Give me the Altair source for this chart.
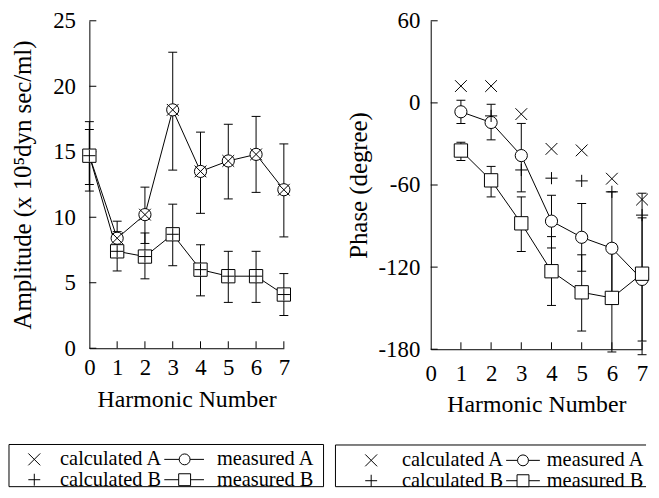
import altair as alt
import pandas as pd

# ---------------- data ----------------
harmonics = [0, 1, 2, 3, 4, 5, 6, 7]
amp_meas_A = [14.7, 8.4, 10.2, 18.2, 13.5, 14.3, 14.8, 12.1]
amp_meas_A_hi = [17.3, 9.7, 12.3, 22.6, 16.5, 17.1, 17.7, 15.6]
amp_meas_A_lo = [12.0, 7.1, 8.0, 13.6, 10.3, 11.4, 11.9, 8.5]
amp_meas_B = [14.7, 7.4, 7.0, 8.7, 6.0, 5.5, 5.5, 4.1]
amp_meas_B_hi = [16.7, 8.9, 8.8, 11.0, 7.9, 7.4, 7.4, 5.7]
amp_meas_B_lo = [12.5, 5.9, 5.3, 6.3, 4.0, 3.5, 3.5, 2.5]
amp_calc_A_h = [1, 2, 3, 4, 5, 6, 7]
amp_calc_A = [8.4, 10.2, 18.2, 13.5, 14.3, 14.8, 12.1]
amp_calc_B_h = [0, 1, 2, 3, 4, 5, 6, 7]
amp_calc_B = [14.7, 7.4, 7.0, 8.7, 6.0, 5.5, 5.5, 4.1]

phase_h = [1, 2, 3, 4, 5, 6, 7]
phase_meas_A = [-6.5, -14.3, -38.5, -86.4, -98.2, -106.2, -129.0]
phase_meas_A_hi = [2.0, -1.0, -15.0, -67.5, -73.5, -65.0, -84.0]
phase_meas_A_lo = [-15.0, -27.0, -65.0, -106.0, -123.0, -147.0, -174.0]
phase_meas_B = [-34.8, -56.6, -88.0, -123.0, -138.4, -142.5, -124.8]
phase_meas_B_hi = [-28.8, -46.4, -68.7, -97.7, -111.0, -103.0, -66.0]
phase_meas_B_lo = [-42.1, -68.7, -108.6, -148.0, -166.7, -182.0, -184.0]
phase_calc_A_h = [1, 2, 3, 4, 5, 6, 7]
phase_calc_A = [12.3, 12.3, -8.2, -33.6, -34.7, -55.4, -70.6]
phase_calc_B_h = [2, 3, 4, 5, 6, 7]
phase_calc_B = [-9.5, -49.0, -55.0, -57.0, -65.0, -82.0]

amp_ticks = [0, 5, 10, 15, 20, 25]
phase_ticks = [60, 0, -60, -120, -180]
x_ticks = [0, 1, 2, 3, 4, 5, 6, 7]
inner_x_ticks = [1, 2, 3, 4, 5, 6, 7]

legend_labels = ["calculated A", "measured A", "calculated B", "measured B"]

FONT = "Liberation Serif"
X_PATH = "M-1,-1L1,1M-1,1L1,-1"
P_PATH = "M-1,0L1,0M0,-1L0,1"


def panel(w, h, ydom, yticks, ytitle, mA, mAhi, mAlo, hA, mB, mBhi, mBlo, hB,
          cAh, cA, cBh, cB, ylabpad, ytitlepad, xlabpad, xtitlepad, leg):
    xs = alt.Scale(domain=[0, 7], nice=False, zero=False)
    ys = alt.Scale(domain=ydom, nice=False, zero=False)
    dA = pd.DataFrame({"h": hA, "v": mA, "hi": mAhi, "lo": mAlo})
    dB = pd.DataFrame({"h": hB, "v": mB, "hi": mBhi, "lo": mBlo})
    dcA = pd.DataFrame({"h": cAh, "v": cA})
    dcB = pd.DataFrame({"h": cBh, "v": cB})
    dyt = pd.DataFrame({"v": yticks})
    dxt = pd.DataFrame({"h": inner_x_ticks})
    one = pd.DataFrame({"k": [0]})

    axis_common = dict(domain=True, domainColor="black", domainWidth=1, ticks=False,
                       grid=False, labelFont=FONT, labelFontSize=23, labelColor="black",
                       labelFlush=False, labelOverlap=False, titleFont=FONT,
                       titleFontWeight="normal", titleColor="black",
                       labelExpr="'' + datum.value")
    ax_x = alt.Axis(values=x_ticks, title="Harmonic Number", labelPadding=xlabpad,
                    titlePadding=xtitlepad, titleFontSize=24, **axis_common)
    ax_y = alt.Axis(values=yticks, title=ytitle, labelPadding=ylabpad,
                    titlePadding=ytitlepad, titleFontSize=25, **axis_common)

    X = lambda: alt.X("h:Q", scale=xs, axis=ax_x)
    Y = lambda f="v": alt.Y(f + ":Q", scale=ys, axis=ax_y)

    lineA = alt.Chart(dA).mark_line(color="black", strokeWidth=1).encode(x=X(), y=Y())
    lineB = alt.Chart(dB).mark_line(color="black", strokeWidth=1).encode(x=X(), y=Y())

    ytick = alt.Chart(dyt).mark_rule(color="black", strokeWidth=1).encode(
        y=Y(), x=alt.value(0), x2=alt.value(7))
    xtick = alt.Chart(dxt).mark_rule(color="black", strokeWidth=1).encode(
        x=X(), y=alt.value(h), y2=alt.value(h - 7))

    layers = [lineA, lineB, ytick, xtick]
    for d in (dA, dB):
        layers.append(alt.Chart(d).mark_rule(color="black", strokeWidth=1).encode(
            x=X(), y=Y("lo"), y2=alt.Y2("hi")))
        for f in ("lo", "hi"):
            layers.append(alt.Chart(d).mark_tick(orient="horizontal", size=9, thickness=1,
                                                 color="black", opacity=1).encode(x=X(), y=Y(f)))
    layers.append(alt.Chart(dA).mark_point(shape="circle", size=150, filled=True, fill="white",
                                           stroke="black", strokeWidth=1, opacity=1).encode(x=X(), y=Y()))
    layers.append(alt.Chart(dB).mark_point(shape="square", size=180, filled=True, fill="white",
                                           stroke="black", strokeWidth=1, opacity=1).encode(x=X(), y=Y()))
    layers.append(alt.Chart(dcA).mark_point(shape=X_PATH, size=140, filled=False, stroke="black",
                                            strokeWidth=1, opacity=1).encode(x=X(), y=Y()))
    layers.append(alt.Chart(dcB).mark_point(shape=P_PATH, size=150, filled=False, stroke="black",
                                            strokeWidth=1, opacity=1).encode(x=X(), y=Y()))

    # ---- legend frame drawn below the panel ----
    bx0, bx1, by0, by1 = leg["box"]
    rule = lambda: alt.Chart(one).mark_rule(color="black", strokeWidth=1)
    layers.append(rule().encode(x=alt.value(bx0), x2=alt.value(bx1), y=alt.value(by0)))
    layers.append(rule().encode(x=alt.value(bx0), x2=alt.value(bx1), y=alt.value(by1)))
    layers.append(rule().encode(x=alt.value(bx0), y=alt.value(by0), y2=alt.value(by1)))
    if leg["closed"]:
        layers.append(rule().encode(x=alt.value(bx1), y=alt.value(by0), y2=alt.value(by1)))
    r1, r2 = leg["rows"]
    sx, t1x, s0, s1, scx, t2x = leg["cols"]
    for ry, shape, cl, ml, mshape, msize in (
            (r1, X_PATH, legend_labels[0], legend_labels[1], "circle", 120),
            (r2, P_PATH, legend_labels[2], legend_labels[3], "square", 144)):
        layers.append(alt.Chart(one).mark_point(shape=shape, size=144, filled=False, stroke="black",
                                                strokeWidth=1, opacity=1).encode(
            x=alt.value(sx), y=alt.value(ry)))
        layers.append(alt.Chart(one).mark_text(text=cl, align="left", baseline="middle", font=FONT,
                                               fontSize=20.5, color="black").encode(
            x=alt.value(t1x), y=alt.value(ry)))
        layers.append(alt.Chart(one).mark_rule(color="black", strokeWidth=1).encode(
            x=alt.value(s0), x2=alt.value(s1), y=alt.value(ry)))
        layers.append(alt.Chart(one).mark_point(shape=mshape, size=msize, filled=True, fill="white",
                                                stroke="black", strokeWidth=1, opacity=1).encode(
            x=alt.value(scx), y=alt.value(ry)))
        layers.append(alt.Chart(one).mark_text(text=ml, align="left", baseline="middle", font=FONT,
                                               fontSize=20.5, color="black").encode(
            x=alt.value(t2x), y=alt.value(ry)))

    return alt.layer(*layers).properties(width=w, height=h)


left = panel(196, 330, [0, 25], amp_ticks, "Amplitude (x 10\u2075dyn sec/ml)",
             amp_meas_A, amp_meas_A_hi, amp_meas_A_lo, harmonics,
             amp_meas_B, amp_meas_B_hi, amp_meas_B_lo, harmonics,
             amp_calc_A_h, amp_calc_A, amp_calc_B_h, amp_calc_B, 14, 17.5, 8, 9,
             {"box": [-81, 236, 427, 469.5], "rows": [442, 462.5], "closed": True,
              "cols": [-55.5, -29.5, 75.5, 115.5, 96, 128.5]})

right = panel(213, 331, [-180, 60], phase_ticks, "Phase (degree)",
              phase_meas_A, phase_meas_A_hi, phase_meas_A_lo, phase_h,
              phase_meas_B, phase_meas_B_hi, phase_meas_B_lo, phase_h,
              phase_calc_A_h, phase_calc_A, phase_calc_B_h, phase_calc_B, 11, 7, 14, 7,
              {"box": [-96, 217, 427.5, 469.5], "rows": [443, 463.5], "closed": False,
               "cols": [-60, -29, 76, 110, 93, 117]})

chart = alt.hconcat(left, right, spacing=10).properties(
    padding={"left": 0, "top": 0, "right": 0, "bottom": 0}
).configure_view(stroke=None)

chart.save("out.html", embed_options={"renderer": "svg", "actions": False})
